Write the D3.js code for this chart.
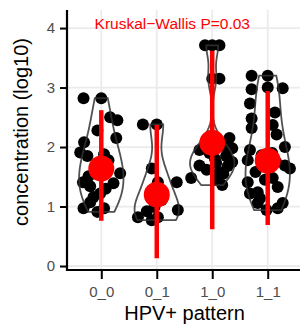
<!DOCTYPE html>
<html>
<head>
<meta charset="utf-8">
<script src="https://cdn.jsdelivr.net/npm/d3@7.9.0/dist/d3.min.js"></script>
<style>
  body { margin: 0; background: #fff; }
  svg text { font-family: "Liberation Sans", Arial, sans-serif; }
</style>
</head>
<body>
<svg id="chart" width="300" height="325"></svg>
<script>
const groups = ['0_0', '0_1', '1_0', '1_1'];
const yTicks = [0, 1, 2, 3, 4];

// log10 concentration of each sample, with the horizontal jitter
const conc00 = [2.82, 2.82, 2.50, 2.45, 2.28, 2.15, 2.08, 1.91, 1.85, 1.78, 1.56, 1.69, 1.41, 1.34, 1.39, 1.16, 1.22, 0.97, 1.07, 0.91, 0.97, 1.51, 1.62, 1.88, 1.30];
const jit00 = [-0.32, 0, 0.16, 0.29, -0.07, 0.27, -0.31, -0.38, -0.25, 0.13, 0.34, -0.09, -0.33, -0.2, 0.22, -0.14, -0.02, -0.32, -0.2, -0.07, 0.05, -0.23, 0.1, 0.05, 0.08];
const conc01 = [2.38, 2.38, 1.64, 1.41, 1.41, 0.82, 0.92, 0.77, 0.82, 0.94, 1.11, 0.99];
const jit01 = [-0.25, 0, -0.09, 0.02, 0.36, -0.34, -0.18, -0.09, 0.02, 0.38, 0.09, -0.04];
const conc10 = [3.71, 3.71, 3.71, 3.15, 3.15, 2.15, 1.98, 1.95, 1.85, 1.69, 1.73, 1.75, 1.58, 1.48, 1.36, 1.62, 1.80, 1.55, 1.90, 2.02, 1.45, 1.68];
const jit10 = [-0.13, 0, 0.13, 0, 0.13, 0.31, 0.36, -0.23, 0.25, -0.23, 0.07, 0.36, 0.13, -0.38, 0.18, -0.1, 0.05, 0.2, -0.05, 0.2, 0.07, 0.28];
const conc11 = [3.20, 3.20, 2.97, 3.00, 2.99, 2.73, 2.48, 2.58, 2.37, 2.32, 2.21, 1.95, 2.00, 1.78, 1.86, 1.64, 1.48, 1.41, 1.22, 1.24, 1.33, 1.14, 1.06, 0.97, 0.94, 1.06, 1.69, 1.58, 1.75, 1.45, 1.90];
const jit11 = [-0.29, 0, -0.29, 0, 0.27, -0.32, -0.29, 0.13, 0.09, -0.29, 0.16, -0.32, 0.31, -0.36, -0.11, 0.4, 0.09, -0.36, -0.32, -0.18, 0.18, -0.14, 0.27, 0.18, -0.02, -0.18, 0.31, -0.22, 0.15, -0.05, 0.08];

// mean and range of the red summary
const meanVals = [1.64, 1.20, 2.07, 1.77];
const lowVals = [0.76, 0.13, 0.62, 0.69];
const highVals = [2.62, 2.37, 3.62, 2.94];

const pLabel = 'Kruskal\u2212Wallis P=0.03';

const concs = [conc00, conc01, conc10, conc11];
const jits = [jit00, jit01, jit10, jit11];

const svg = d3.select('#chart');
const pLeft = 68, pRight = 301, pTop = 12, pBottom = 270;

const x = d3.scalePoint().domain(groups).range([pLeft, pRight]).padding(0.6);
const step = x.step();
const y = d3.scaleLinear().domain([-0.067, 4.27]).range([pBottom, pTop]);

// grid
const grid = svg.append('g');
yTicks.forEach(t => {
  grid.append('line').attr('x1', pLeft).attr('x2', pRight)
    .attr('y1', y(t)).attr('y2', y(t))
    .attr('stroke', '#ebebeb').attr('stroke-width', 1.8);
});
groups.forEach(g => {
  grid.append('line').attr('x1', x(g)).attr('x2', x(g))
    .attr('y1', pTop - 2).attr('y2', pBottom)
    .attr('stroke', '#ebebeb').attr('stroke-width', 1.8);
});

// kernel density, nrd0 bandwidth like R
function bwNrd0(v) {
  const s = d3.deviation(v);
  const sorted = v.slice().sort(d3.ascending);
  const iqr = d3.quantile(sorted, 0.75) - d3.quantile(sorted, 0.25);
  const lo = Math.min(s, iqr / 1.34) || s || 1;
  return 0.9 * lo * Math.pow(v.length, -0.2);
}
function kde(v, adjust) {
  const bw = bwNrd0(v) * adjust;
  const [mn, mx] = d3.extent(v);
  return d3.range(0, 101).map(i => {
    const t = mn + (mx - mn) * i / 100;
    const d = d3.mean(v, xi => Math.exp(-0.5 * ((t - xi) / bw) ** 2)) / (bw * Math.sqrt(2 * Math.PI));
    return [t, d];
  });
}

const points = svg.append('g');
concs.forEach((vals, gi) => {
  points.selectAll(null).data(vals).join('circle')
    .attr('cx', (d, i) => x(groups[gi]) + jits[gi][i] * step)
    .attr('cy', d => y(d))
    .attr('r', 6)
    .attr('fill', '#000');
});

// violins, each scaled to the same max width
const violins = svg.append('g');
concs.forEach((vals, gi) => {
  const dens = kde(vals, 1.2);
  const w = d3.scaleLinear().domain([0, d3.max(dens, d => d[1])]).range([0, 0.4 * step]);
  const cx = x(groups[gi]);
  const area = d3.area()
    .y(d => y(d[0]))
    .x0(d => cx - w(d[1]))
    .x1(d => cx + w(d[1]));
  violins.append('path')
    .attr('d', area(dens))
    .attr('fill', 'none')
    .attr('stroke', '#333')
    .attr('stroke-opacity', 0.85)
    .attr('stroke-width', 1.8);
});

// red summary
const summary = svg.append('g');
groups.forEach((g, i) => {
  summary.append('line')
    .attr('x1', x(g)).attr('x2', x(g))
    .attr('y1', y(lowVals[i])).attr('y2', y(highVals[i]))
    .attr('stroke', '#ff0000').attr('stroke-width', 4.5);
  summary.append('circle')
    .attr('cx', x(g)).attr('cy', y(meanVals[i]))
    .attr('r', 13).attr('fill', '#ff0000');
});

// axes
const yAxis = svg.append('g')
  .attr('transform', `translate(${pLeft},0)`)
  .call(d3.axisLeft(y).tickValues(yTicks).tickSize(8).tickPadding(5).tickFormat(d3.format('d')));
const xAxis = svg.append('g')
  .attr('transform', `translate(0,${pBottom})`)
  .call(d3.axisBottom(x).tickSize(9).tickPadding(7));
[xAxis, yAxis].forEach(a => {
  a.select('.domain').remove();
  a.selectAll('.tick line').attr('stroke', '#000').attr('stroke-width', 2);
  a.selectAll('.tick text').attr('fill', '#4d4d4d').style('font-size', '15px');
});
svg.append('line').attr('x1', pLeft - 1).attr('x2', pRight).attr('y1', pBottom).attr('y2', pBottom)
  .attr('stroke', '#000').attr('stroke-width', 2.2);
svg.append('line').attr('x1', pLeft - 1).attr('x2', pLeft - 1).attr('y1', pTop - 2).attr('y2', pBottom + 1)
  .attr('stroke', '#000').attr('stroke-width', 2.2);

// titles
svg.append('text')
  .attr('x', (pLeft + pRight) / 2).attr('y', 320)
  .attr('text-anchor', 'middle')
  .style('font-size', '20px').attr('fill', '#000')
  .text('HPV+ pattern');
svg.append('text')
  .attr('transform', `translate(28,${(pTop + pBottom) / 2 - 9}) rotate(-90)`)
  .attr('text-anchor', 'middle')
  .style('font-size', '20px').attr('fill', '#000')
  .text('concentration (log10)');
svg.append('text')
  .attr('x', x(groups[0]) + 1.28 * step).attr('y', y(4.07))
  .attr('dy', '0.35em')
  .attr('text-anchor', 'middle')
  .style('font-size', '15.5px').attr('fill', '#ff0000')
  .text(pLabel);
</script>
</body>
</html>
